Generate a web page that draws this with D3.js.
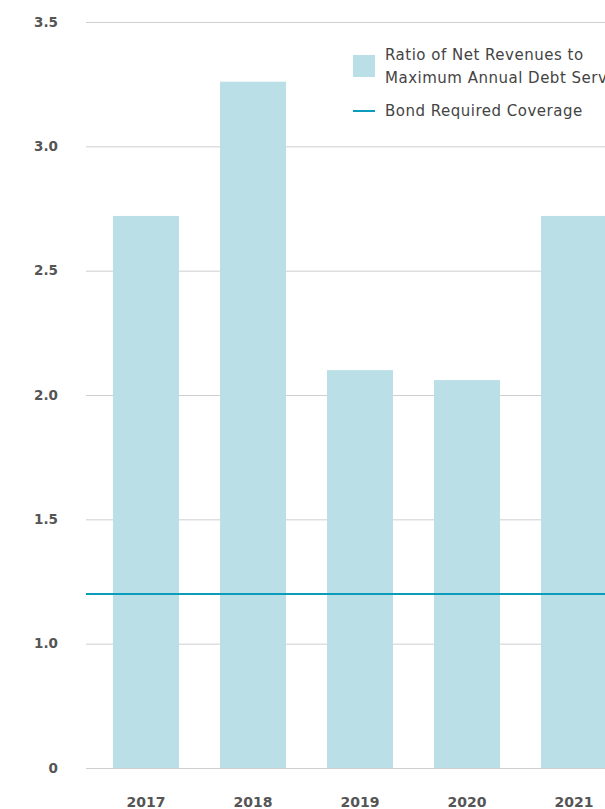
<!DOCTYPE html>
<html>
<head>
<meta charset="utf-8">
<script src="https://cdn.jsdelivr.net/npm/d3@7"></script>
<style>
  body { margin: 0; background: #fff; }
  svg { display: block; }
</style>
</head>
<body>
<div id="chart"></div>
<script>
// values
var years = ["2017", "2018", "2019", "2020", "2021"];
var ratio = [2.72, 3.26, 2.10, 2.06, 2.72];
var required = 1.2;
// axis is broken: the bottom line is labelled 0 but sits one step below 1.0
var tickValues = [0.5, 1.0, 1.5, 2.0, 2.5, 3.0, 3.5];
var tickLabels = ["0", "1.0", "1.5", "2.0", "2.5", "3.0", "3.5"];
var legendLabels = ["Ratio of Net Revenues to", "Maximum Annual Debt Service"];
var lineLabel = "Bond Required Coverage";

var width = 605, height = 809;
var barColour = "#badfe7", lineColour = "#0b9cbc";

var svg = d3.select("#chart").append("svg")
  .attr("width", width)
  .attr("height", height);

var x = d3.scaleBand()
  .domain(years)
  .range([86, 634])
  .paddingInner(0.383)
  .paddingOuter(0.252);

var y = d3.scaleLinear()
  .domain([0.5, 3.5])
  .range([768, 22]);

// grid lines
svg.append("g").selectAll("line")
  .data(tickValues)
  .enter().append("line")
  .attr("x1", 86).attr("x2", width)
  .attr("y1", function(d){ return y(d) + 0.5; })
  .attr("y2", function(d){ return y(d) + 0.5; })
  .attr("stroke", "#cfcfcf")
  .attr("stroke-width", 1);

// y labels
svg.append("g").selectAll("text")
  .data(tickValues)
  .enter().append("text")
  .attr("x", 58)
  .attr("y", function(d){ return y(d); })
  .attr("dy", "0.35em")
  .attr("text-anchor", "end")
  .attr("font-family", "'DejaVu Sans', sans-serif")
  .attr("font-weight", "bold")
  .attr("font-size", 13.5)
  .attr("fill", "#555")
  .text(function(d, i){ return tickLabels[i]; });

// bars
svg.append("g").selectAll("rect")
  .data(ratio)
  .enter().append("rect")
  .attr("x", function(d, i){ return x(years[i]); })
  .attr("y", function(d){ return y(d); })
  .attr("width", x.bandwidth())
  .attr("height", function(d){ return y(0.5) - y(d); })
  .attr("fill", barColour);

// required coverage line
svg.append("line")
  .attr("x1", 86).attr("x2", width)
  .attr("y1", y(required)).attr("y2", y(required))
  .attr("stroke", lineColour)
  .attr("stroke-width", 2);

// x labels
svg.append("g").selectAll("text")
  .data(years)
  .enter().append("text")
  .attr("x", function(d){ return x(d) + x.bandwidth() / 2; })
  .attr("y", 802)
  .attr("dy", "0.35em")
  .attr("text-anchor", "middle")
  .attr("font-family", "'DejaVu Sans', sans-serif")
  .attr("font-weight", "bold")
  .attr("font-size", 14)
  .attr("fill", "#555")
  .text(function(d){ return d; });

// legend
var legend = svg.append("g").attr("font-family", "'DejaVu Sans', sans-serif")
  .attr("font-size", 15).attr("letter-spacing", 0.5).attr("fill", "#444");

legend.append("rect")
  .attr("x", 353).attr("y", 55)
  .attr("width", 22).attr("height", 22)
  .attr("fill", barColour);

legend.selectAll("text.lab")
  .data(legendLabels)
  .enter().append("text")
  .attr("class", "lab")
  .attr("x", 385)
  .attr("y", function(d, i){ return 55 + i * 23; })
  .attr("dy", "0.35em")
  .text(function(d){ return d; });

legend.append("line")
  .attr("x1", 353).attr("x2", 375)
  .attr("y1", 111).attr("y2", 111)
  .attr("stroke", lineColour)
  .attr("stroke-width", 2);

legend.append("text")
  .attr("x", 385).attr("y", 111)
  .attr("dy", "0.35em")
  .text(lineLabel);
</script>
</body>
</html>
